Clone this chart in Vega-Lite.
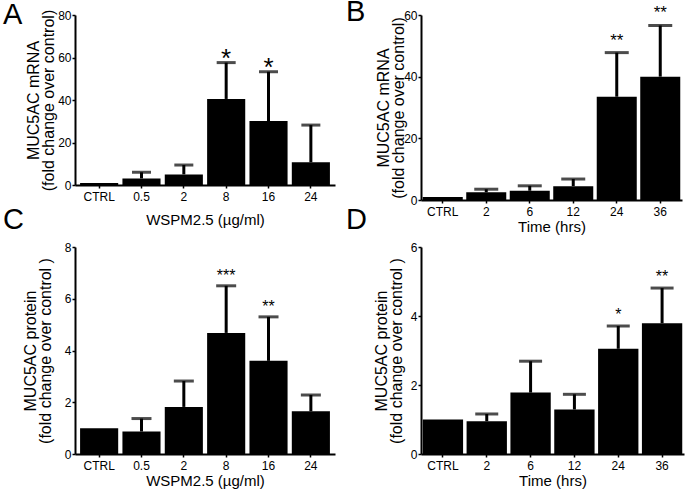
{
  "$schema": "https://vega.github.io/schema/vega-lite/v6.json",
  "padding": {"left": 3, "top": -3, "right": 1, "bottom": 4},
  "datasets": {
    "A": [
      {"group": "CTRL", "mean": 1.0, "err": null, "sig": ""},
      {"group": "0.5", "mean": 3.1, "err": 6.0, "sig": ""},
      {"group": "2", "mean": 5.0, "err": 9.4, "sig": ""},
      {"group": "8", "mean": 40.5, "err": 57.6, "sig": "*"},
      {"group": "16", "mean": 30.1, "err": 53.3, "sig": "*"},
      {"group": "24", "mean": 10.7, "err": 28.2, "sig": ""}
    ],
    "B": [
      {"group": "CTRL", "mean": 1.0, "err": null, "sig": ""},
      {"group": "2", "mean": 2.5, "err": 3.5, "sig": ""},
      {"group": "6", "mean": 3.0, "err": 4.6, "sig": ""},
      {"group": "12", "mean": 4.5, "err": 6.8, "sig": ""},
      {"group": "24", "mean": 33.5, "err": 47.8, "sig": "**"},
      {"group": "36", "mean": 40.0, "err": 56.6, "sig": "**"}
    ],
    "C": [
      {"group": "CTRL", "mean": 1.0, "err": null, "sig": ""},
      {"group": "0.5", "mean": 0.87, "err": 1.37, "sig": ""},
      {"group": "2", "mean": 1.82, "err": 2.82, "sig": ""},
      {"group": "8", "mean": 4.68, "err": 6.5, "sig": "***"},
      {"group": "16", "mean": 3.6, "err": 5.3, "sig": "**"},
      {"group": "24", "mean": 1.65, "err": 2.28, "sig": ""}
    ],
    "D": [
      {"group": "CTRL", "mean": 1.0, "err": null, "sig": ""},
      {"group": "2", "mean": 0.95, "err": 1.16, "sig": ""},
      {"group": "6", "mean": 1.78, "err": 2.69, "sig": ""},
      {"group": "12", "mean": 1.29, "err": 1.73, "sig": ""},
      {"group": "24", "mean": 3.05, "err": 3.71, "sig": "*"},
      {"group": "36", "mean": 3.79, "err": 4.81, "sig": "**"}
    ]
  },
  "bounds": "flush",
  "columns": 2,
  "spacing": {"row": 47, "column": 86},
  "concat": [
    {
      "width": 260, "height": 170,
      "data": {"name": "A"},
      "title": {"text": "A", "anchor": "start", "frame": "group", "dx": -72, "dy": 43.5, "offset": 0, "baseline": "alphabetic", "fontSize": 29, "fontWeight": "normal", "color": "black"},
      "encoding": {"x": {"field": "group", "type": "nominal", "sort": null, "scale": {"paddingInner": 0.1, "paddingOuter": 0.12}, "axis": {"title": "WSPM2.5 (µg/ml)", "titlePadding": 10}}},
      "layer": [
        {"mark": {"type": "bar", "color": "black"}, "encoding": {"y": {"field": "mean", "type": "quantitative", "title": ["MUC5AC mRNA", "(fold change over control)"], "scale": {"domain": [0, 80], "nice": false}, "axis": {"values": [0, 20, 40, 60, 80], "titlePadding": 1}}}},
        {"mark": {"type": "rule", "color": "black", "strokeWidth": 3}, "encoding": {"y": {"field": "mean", "type": "quantitative", "title": ["MUC5AC mRNA", "(fold change over control)"]}, "y2": {"field": "err"}}},
        {"mark": {"type": "tick", "color": "black", "thickness": 3}, "encoding": {"y": {"field": "err", "type": "quantitative", "title": ["MUC5AC mRNA", "(fold change over control)"]}, "size": {"value": 19}}},
        {"mark": {"type": "text", "fontSize": 26, "baseline": "alphabetic", "dy": 4, "color": "black"}, "encoding": {"y": {"field": "err", "type": "quantitative", "title": ["MUC5AC mRNA", "(fold change over control)"]}, "text": {"field": "sig"}}}
      ]
    },
    {
      "width": 261, "height": 185,
      "data": {"name": "B"},
      "title": {"text": "B", "anchor": "start", "frame": "group", "dx": -75, "dy": 45.5, "offset": 0, "baseline": "alphabetic", "fontSize": 29, "fontWeight": "normal", "color": "black"},
      "encoding": {"x": {"field": "group", "type": "nominal", "sort": null, "scale": {"paddingInner": 0.08, "paddingOuter": 0.04}, "axis": {"title": "Time (hrs)", "titlePadding": 2}}},
      "layer": [
        {"mark": {"type": "bar", "color": "black"}, "encoding": {"y": {"field": "mean", "type": "quantitative", "title": ["MUC5AC mRNA", "(fold change over control)"], "scale": {"domain": [0, 60], "nice": false}, "axis": {"values": [0, 20, 40, 60], "titlePadding": -3}}}},
        {"mark": {"type": "rule", "color": "black", "strokeWidth": 3}, "encoding": {"y": {"field": "mean", "type": "quantitative", "title": ["MUC5AC mRNA", "(fold change over control)"]}, "y2": {"field": "err"}}},
        {"mark": {"type": "tick", "color": "black", "thickness": 3}, "encoding": {"y": {"field": "err", "type": "quantitative", "title": ["MUC5AC mRNA", "(fold change over control)"]}, "size": {"value": 24}}},
        {"mark": {"type": "text", "fontSize": 17, "baseline": "alphabetic", "dy": -7, "color": "black"}, "encoding": {"y": {"field": "err", "type": "quantitative", "title": ["MUC5AC mRNA", "(fold change over control)"]}, "text": {"field": "sig"}}}
      ]
    },
    {
      "width": 260, "height": 207,
      "data": {"name": "C"},
      "title": {"text": "C", "anchor": "start", "frame": "group", "dx": -72, "dy": 17, "offset": 0, "baseline": "alphabetic", "fontSize": 29, "fontWeight": "normal", "color": "black"},
      "encoding": {"x": {"field": "group", "type": "nominal", "sort": null, "scale": {"paddingInner": 0.1, "paddingOuter": 0.12}, "axis": {"title": "WSPM2.5 (µg/ml)", "titlePadding": 2}}},
      "layer": [
        {"mark": {"type": "bar", "color": "black"}, "encoding": {"y": {"field": "mean", "type": "quantitative", "title": ["MUC5AC protein", "(fold change over control )"], "scale": {"domain": [0, 8], "nice": false}, "axis": {"values": [0, 2, 4, 6, 8], "titlePadding": 11}}}},
        {"mark": {"type": "rule", "color": "black", "strokeWidth": 3}, "encoding": {"y": {"field": "mean", "type": "quantitative", "title": ["MUC5AC protein", "(fold change over control )"]}, "y2": {"field": "err"}}},
        {"mark": {"type": "tick", "color": "black", "thickness": 3}, "encoding": {"y": {"field": "err", "type": "quantitative", "title": ["MUC5AC protein", "(fold change over control )"]}, "size": {"value": 20}}},
        {"mark": {"type": "text", "fontSize": 16, "baseline": "alphabetic", "dy": -5, "color": "black"}, "encoding": {"y": {"field": "err", "type": "quantitative", "title": ["MUC5AC protein", "(fold change over control )"]}, "text": {"field": "sig"}}}
      ]
    },
    {
      "width": 263, "height": 207,
      "data": {"name": "D"},
      "title": {"text": "D", "anchor": "start", "frame": "group", "dx": -75, "dy": 17, "offset": 0, "baseline": "alphabetic", "fontSize": 29, "fontWeight": "normal", "color": "black"},
      "encoding": {"x": {"field": "group", "type": "nominal", "sort": null, "scale": {"paddingInner": 0.08, "paddingOuter": 0.04}, "axis": {"title": "Time (hrs)", "titlePadding": 2}}},
      "layer": [
        {"mark": {"type": "bar", "color": "black"}, "encoding": {"y": {"field": "mean", "type": "quantitative", "title": ["MUC5AC protein", "(fold change over control )"], "scale": {"domain": [0, 6], "nice": false}, "axis": {"values": [0, 2, 4, 6], "titlePadding": 6}}}},
        {"mark": {"type": "rule", "color": "black", "strokeWidth": 3}, "encoding": {"y": {"field": "mean", "type": "quantitative", "title": ["MUC5AC protein", "(fold change over control )"]}, "y2": {"field": "err"}}},
        {"mark": {"type": "tick", "color": "black", "thickness": 3}, "encoding": {"y": {"field": "err", "type": "quantitative", "title": ["MUC5AC protein", "(fold change over control )"]}, "size": {"value": 23}}},
        {"mark": {"type": "text", "fontSize": 16, "baseline": "alphabetic", "dy": -6, "color": "black"}, "encoding": {"y": {"field": "err", "type": "quantitative", "title": ["MUC5AC protein", "(fold change over control )"]}, "text": {"field": "sig"}}}
      ]
    }
  ],
  "config": {
    "font": "Liberation Sans",
    "view": {"stroke": null},
    "axis": {"domainColor": "black", "domainWidth": 2, "tickColor": "black", "tickWidth": 1.5, "labelColor": "black", "labelFontSize": 12, "labelFont": "Liberation Sans", "titleFont": "Liberation Sans", "titleColor": "black", "titleFontWeight": "normal", "grid": false},
    "axisX": {"tickSize": 3, "labelPadding": 3, "labelAngle": 0, "titleFontSize": 15},
    "axisY": {"tickSize": 3, "labelPadding": 1, "titleFontSize": 16, "titleLineHeight": 15}
  }
}
